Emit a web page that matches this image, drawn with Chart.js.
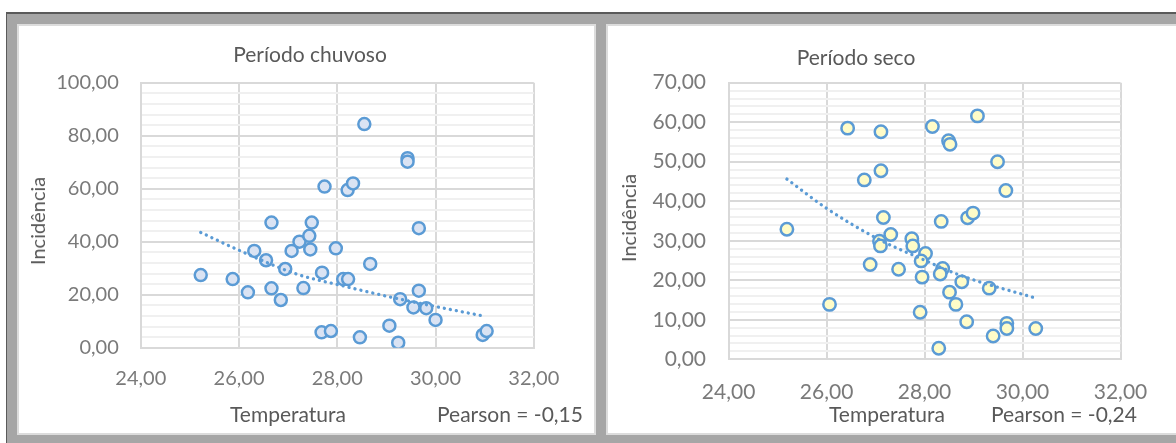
<!DOCTYPE html>
<html lang="pt">
<head>
<meta charset="utf-8">
<title>Incidência x Temperatura</title>
<script src="https://cdn.jsdelivr.net/npm/chart.js@4.4.1/dist/chart.umd.min.js"></script>
<style>
  html, body { margin: 0; padding: 0; background: #fff; width: 1176px; height: 443px; overflow: hidden; font-family: Lato, "Open Sans", sans-serif; }
  #frame { position: absolute; left: 6px; top: 12px; width: 1180px; height: 440px; background: #a6a6a6;
           border-top: 2px solid #5a5a5a; border-left: 1px solid #5a5a5a; box-sizing: border-box; }
  .panel { position: absolute; top: 24px; height: 411px; background: #fff; border: 2.5px solid #dcdcdc; box-sizing: border-box; }
  #p1 { left: 17px; width: 579px; }
  #p2 { left: 606px; width: 590px; }
  canvas { position: absolute; }
  #c1 { left: 18px; top: 25px; }
  #c2 { left: 608px; top: 25px; }
  .txt { position: absolute; transform: translate(-50%, -50%); white-space: nowrap; line-height: 1; color: #595959; font-size: 21px; }
  .vert { transform: translate(-50%, -50%) rotate(-90deg); font-size: 20px; }
</style>
</head>
<body>
<div id="frame"></div>
<div class="panel" id="p1"></div>
<div class="panel" id="p2"></div>
<canvas id="c1" width="578" height="410"></canvas>
<canvas id="c2" width="568" height="410"></canvas>

<div class="txt" id="t1" style="left:310px;top:53px;"></div>
<div class="txt" id="x1" style="left:288px;top:413px;"></div>
<div class="txt" id="r1" style="left:510px;top:413px;"></div>
<div class="txt vert" id="y1" style="left:37px;top:221px;"></div>

<div class="txt" id="t2" style="left:856px;top:56px;"></div>
<div class="txt" id="x2" style="left:887px;top:413px;"></div>
<div class="txt" id="r2" style="left:1064px;top:413px;"></div>
<div class="txt vert" id="y2" style="left:628px;top:218px;"></div>

<script>
// Período chuvoso: temperatura média x incidência
const tempChuvoso = [25.22, 25.87, 26.18, 26.31, 26.55, 26.66, 26.66, 26.85, 26.94, 27.07,
                     27.23, 27.31, 27.43, 27.45, 27.48, 27.69, 27.68, 27.87, 27.97, 28.12,
                     28.22, 28.46, 28.67, 29.06, 29.24, 29.28, 29.55, 29.66, 29.66, 29.81,
                     30.00, 30.96, 31.04, 28.55, 29.43, 29.43, 27.74, 28.21, 28.32];
const incChuvoso  = [27.4, 25.9, 20.9, 36.5, 33.0, 47.2, 22.4, 18.0, 29.7, 36.5,
                     40.0, 22.5, 42.2, 37.1, 47.2, 28.3, 5.8, 6.3, 37.5, 25.9,
                     25.9, 3.9, 31.6, 8.3, 1.9, 18.3, 15.2, 21.5, 45.1, 14.9,
                     10.5, 4.8, 6.3, 84.4, 71.5, 70.2, 60.8, 59.5, 62.0];
// linha de tendência (exponencial) do período chuvoso
const trendChuvosoTemp = [25.22, 26.09, 27.17, 28.12, 29.28, 30.96];
const trendChuvosoInc  = [43.5, 36.0, 27.8, 23.3, 18.3, 12.0];

// Período seco: temperatura média x incidência
const tempSeco = [25.19, 26.06, 26.77, 27.11, 27.16, 26.89, 27.08, 27.10, 27.31, 27.47,
                  27.74, 27.76, 28.02, 27.93, 27.95, 27.91, 28.34, 28.37, 28.32, 28.29,
                  28.51, 28.64, 28.76, 28.86, 28.88, 28.99, 29.32, 29.40, 29.68, 29.68,
                  30.27, 29.66, 29.49, 26.43, 27.11, 28.16, 28.49, 28.52, 29.08];
const incSeco  = [32.9, 13.9, 45.4, 47.7, 35.9, 24.0, 29.9, 28.7, 31.6, 22.8,
                  30.5, 28.7, 26.8, 24.9, 20.8, 11.9, 34.9, 23.0, 21.6, 2.8,
                  17.0, 13.9, 19.6, 9.5, 35.8, 37.0, 18.0, 5.9, 9.1, 7.8,
                  7.8, 42.7, 50.0, 58.5, 57.6, 58.9, 55.3, 54.4, 61.6];
// linha de tendência (exponencial) do período seco
const trendSecoTemp = [25.19, 26.00, 27.09, 27.91, 28.72, 30.29];
const trendSecoInc  = [45.6, 38.2, 30.2, 25.6, 21.3, 15.4];

// marcas dos eixos
const xTicks = [24, 26, 28, 30, 32];
const yMajorChuvoso = [0, 20, 40, 60, 80, 100];
const yMajorSeco = [0, 10, 20, 30, 40, 50, 60, 70];

// textos
const titles = ['Período chuvoso', 'Período seco'];
const xTitle = 'Temperatura';
const yTitle = 'Incidência';
const pearson = ['Pearson = -0,15', 'Pearson = -0,24'];

document.getElementById('t1').textContent = titles[0];
document.getElementById('t2').textContent = titles[1];
document.getElementById('x1').textContent = xTitle;
document.getElementById('x2').textContent = xTitle;
document.getElementById('y1').textContent = yTitle;
document.getElementById('y2').textContent = yTitle;
document.getElementById('r1').textContent = pearson[0];
document.getElementById('r2').textContent = pearson[1];

const fmt = v => Number(v).toFixed(2).replace('.', ',');
const FONT = 'Lato, "Open Sans", sans-serif';

function makeChart(id, temps, incs, trendT, trendI, o) {
  const minorTicks = [];
  for (let v = 0; v <= o.yMax + 1e-9; v += o.yMinor) minorTicks.push(+v.toFixed(4));
  return new Chart(document.getElementById(id), {
    type: 'scatter',
    data: {
      datasets: [
        {
          data: trendT.map((t, i) => ({ x: t, y: trendI[i] })),
          showLine: true,
          pointRadius: 0,
          borderColor: '#5b9bd5',
          borderWidth: 3.3,
          borderDash: [0.1, 6],
          borderCapStyle: 'round',
          cubicInterpolationMode: 'monotone',
          order: 0
        },
        {
          data: temps.map((t, i) => ({ x: t, y: incs[i] })),
          pointRadius: o.radius,
          pointBorderWidth: 2.5,
          pointBackgroundColor: o.fill,
          pointBorderColor: '#5b9bd5',
          showLine: false,
          order: 1
        }
      ]
    },
    options: {
      responsive: false,
      animation: false,
      events: [],
      layout: { padding: { left: 0, top: o.padTop, right: o.padRight, bottom: 0 } },
      plugins: { legend: { display: false }, tooltip: { enabled: false } },
      scales: {
        x: {
          type: 'linear', min: 24, max: 32,
          afterBuildTicks: s => { s.ticks = xTicks.map(v => ({ value: v })); },
          afterFit: s => { s.height = o.xHeight; },
          ticks: { autoSkip: false, maxRotation: 0, padding: o.xPad, color: '#7a7a7a',
                   font: { family: FONT, size: o.tickSize }, callback: v => fmt(v) },
          grid: { color: '#d9d9d9', lineWidth: 2, drawTicks: false },
          border: { display: true, color: '#d9d9d9', width: 2 }
        },
        y: {
          type: 'linear', min: 0, max: o.yMax,
          afterBuildTicks: s => { s.ticks = minorTicks.map(v => ({ value: v })); },
          afterFit: s => { s.width = o.yWidth; },
          ticks: { autoSkip: false, padding: o.yPad, color: '#7a7a7a',
                   font: { family: FONT, size: o.tickSize },
                   callback: v => o.yMajor.includes(v) ? fmt(v) : '' },
          grid: {
            drawTicks: false, lineWidth: 2,
            color: c => o.yMajor.includes(c.tick.value) ? '#d9d9d9' : '#f0f0f0'
          },
          border: { display: true, color: '#d9d9d9', width: 2 }
        }
      }
    }
  });
}

makeChart('c1', tempChuvoso, incChuvoso, trendChuvosoTemp, trendChuvosoInc, {
  yMax: 100, yMinor: 4, yMajor: yMajorChuvoso, fill: '#dae3f3', radius: 6,
  padTop: 57.7, padRight: 62.2, yWidth: 122.8, xHeight: 87.3, yPad: 22, xPad: 19, tickSize: 20
});
makeChart('c2', tempSeco, incSeco, trendSecoTemp, trendSecoInc, {
  yMax: 70, yMinor: 2, yMajor: yMajorSeco, fill: '#fffcc8', radius: 6.2,
  padTop: 57.7, padRight: 55.5, yWidth: 120.6, xHeight: 75.7, yPad: 22.6, xPad: 20, tickSize: 21
});
</script>
</body>
</html>
